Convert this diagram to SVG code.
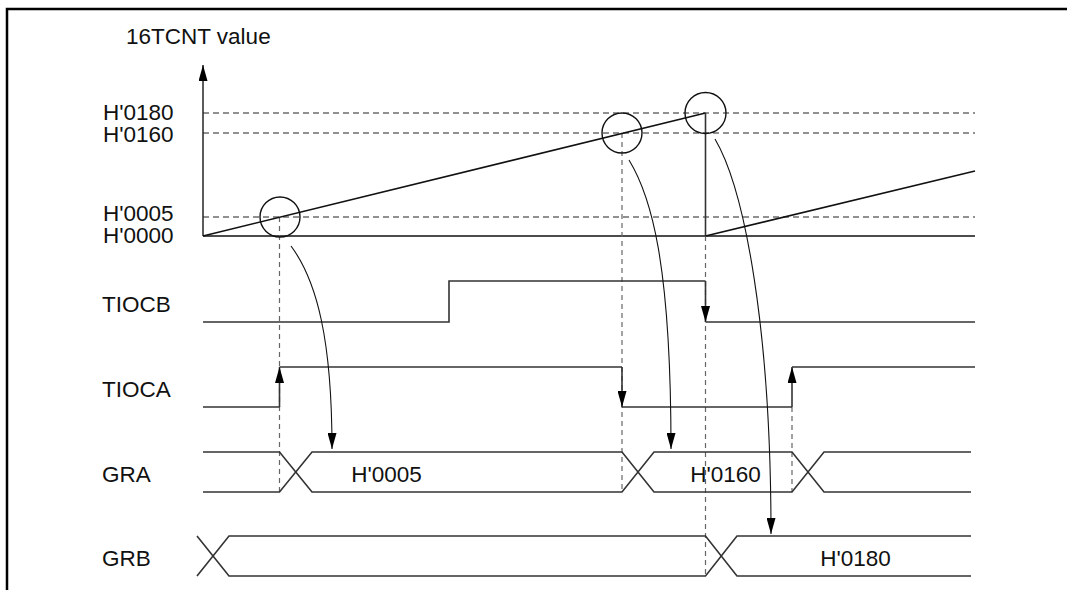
<svg xmlns="http://www.w3.org/2000/svg" width="1067" height="590" viewBox="0 0 1067 590">
<style>
  text { font-family: "Liberation Sans", Arial, sans-serif; font-size: 22.5px; fill: #111; }
  .frame { fill: none; stroke: #000; stroke-width: 2.5; }
  .wave { fill: none; stroke: #333; stroke-width: 1.6; }
  .ramp { fill: none; stroke: #111; stroke-width: 1.6; }
  .hdash { fill: none; stroke: #222; stroke-width: 1; stroke-dasharray: 6 4; }
  .vdash { fill: none; stroke: #666; stroke-width: 1.2; stroke-dasharray: 5 4; }
  .circ { fill: none; stroke: #111; stroke-width: 1.4; }
  .conn { fill: none; stroke: #111; stroke-width: 1.1; }
  .edge { fill: none; stroke: #333; stroke-width: 1.6; }
</style>
<defs>
  <marker id="ah" viewBox="0 0 16 9" refX="16" refY="4.5" markerWidth="16" markerHeight="9" markerUnits="userSpaceOnUse" orient="auto">
    <path d="M0,0 L16,4.5 L0,9 Z" fill="#000"/>
  </marker>
</defs>
<rect width="1067" height="590" fill="#fff"/>
<path class="frame" d="M7,590 L7,9 L1067,9"/>

<g id="axis">
  <text x="126" y="43.5">16TCNT value</text>
  <line class="wave" x1="203" y1="236" x2="203" y2="65" marker-end="url(#ah)"/>
  <text x="103" y="120">H'0180</text>
  <text x="103" y="141.5">H'0160</text>
  <text x="103" y="220.5">H'0005</text>
  <text x="103" y="242.5">H'0000</text>
  <line class="hdash" x1="203" y1="113" x2="975" y2="113"/>
  <line class="hdash" x1="203" y1="133" x2="975" y2="133"/>
  <line class="hdash" x1="203" y1="217" x2="975" y2="217"/>
  <line class="ramp" x1="203" y1="236" x2="975" y2="236"/>
</g>

<g id="guides">
  <line class="vdash" x1="279.5" y1="217" x2="279.5" y2="492"/>
  <line class="vdash" x1="622" y1="133" x2="622" y2="492"/>
  <line class="vdash" x1="705.5" y1="236" x2="705.5" y2="576"/>
  <line class="vdash" x1="792" y1="407" x2="792" y2="492"/>
</g>

<g id="counter">
  <path class="ramp" d="M203,236 L705.5,113"/>
  <line class="wave" x1="705.5" y1="113" x2="705.5" y2="236"/>
  <path class="ramp" d="M705.5,236 L975,171"/>
</g>

<g id="match-circles">
  <circle class="circ" cx="280" cy="217" r="20"/>
  <circle class="circ" cx="622" cy="133" r="20"/>
  <circle class="circ" cx="705.5" cy="113" r="20.5"/>
</g>

<g id="tiocb">
  <text x="102" y="311.5">TIOCB</text>
  <path class="wave" d="M203,322 L449,322 L449,281 L705.5,281"/>
  <line class="edge" x1="705.5" y1="281" x2="705.5" y2="322" marker-end="url(#ah)"/>
  <line class="wave" x1="705.5" y1="322" x2="975" y2="322"/>
</g>

<g id="tioca">
  <text x="102" y="396.5">TIOCA</text>
  <path class="wave" d="M203,407 L279.5,407"/>
  <line class="edge" x1="279.5" y1="407" x2="279.5" y2="367" marker-end="url(#ah)"/>
  <path class="wave" d="M279.5,367 L622,367"/>
  <line class="edge" x1="622" y1="367" x2="622" y2="407" marker-end="url(#ah)"/>
  <path class="wave" d="M622,407 L792,407"/>
  <line class="edge" x1="792" y1="407" x2="792" y2="367" marker-end="url(#ah)"/>
  <path class="wave" d="M792,367 L975,367"/>
</g>

<g id="gra">
  <text x="102" y="482">GRA</text>
  <path class="wave" d="M203,452 L279.5,452 L312,492 L622,492 L654,452 L792,452 L824,492 L971,492"/>
  <path class="wave" d="M203,492 L279.5,492 L312,452 L622,452 L654,492 L792,492 L824,452 L971,452"/>
  <text x="386.5" y="482" text-anchor="middle">H'0005</text>
  <text x="725.5" y="482" text-anchor="middle">H'0160</text>
</g>

<g id="grb">
  <text x="102" y="565.5">GRB</text>
  <path class="wave" d="M197,536 L229,576 L705.5,576 L737,536 L971,536"/>
  <path class="wave" d="M197,576 L229,536 L705.5,536 L737,576 L971,576"/>
  <text x="855.5" y="566" text-anchor="middle">H'0180</text>
</g>

<g id="connectors">
  <path class="conn" d="M291,246 C317,281 332,340 332,449" marker-end="url(#ah)"/>
  <path class="conn" d="M629,160 C651,196 671,262 671,449" marker-end="url(#ah)"/>
  <path class="conn" d="M715,139 C745,190 771,330 771,534" marker-end="url(#ah)"/>
</g>
</svg>
